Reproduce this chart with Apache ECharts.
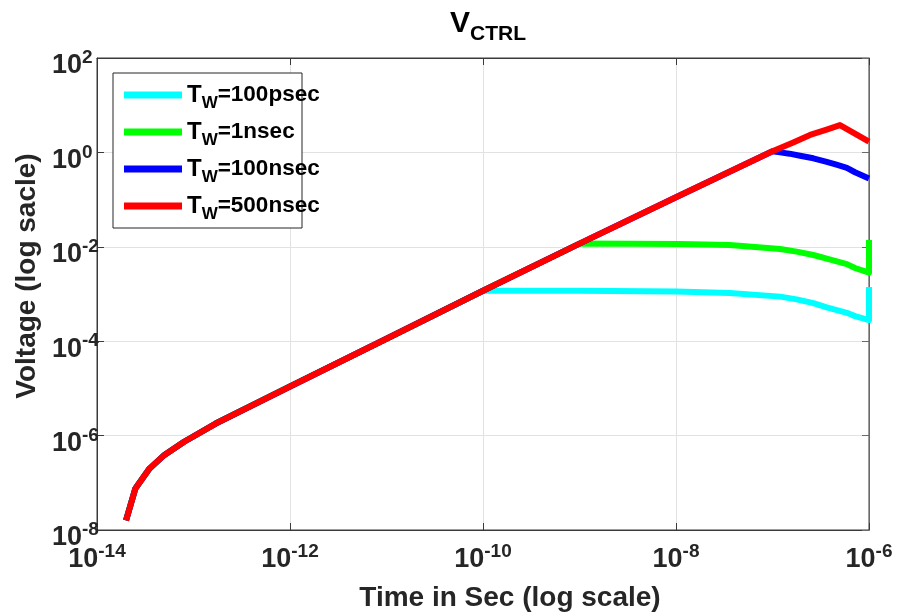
<!DOCTYPE html>
<html>
<head>
<meta charset="utf-8">
<script src="https://cdn.jsdelivr.net/npm/echarts@6/dist/echarts.min.js"></script>
<style>
  html, body { margin: 0; padding: 0; background: #fff; }
  #chart { width: 897px; height: 616px; }
</style>
</head>
<body>
<div id="chart"></div>
<script>
// Shared charging ramp of the control voltage (all pulse widths follow it)
const riseTime = [2e-14, 2.5e-14, 3.5e-14, 5e-14, 8e-14, 1.7e-13, 1e-12, 1e-11, 1e-10, 1e-9, 1e-8, 1e-7];
const riseVolt = [1.6e-8, 7.6e-8, 2.0e-7, 3.9e-7, 7.4e-7, 1.8e-6, 1.1e-5, 1.13e-4, 1.17e-3, 1.17e-2, 0.112, 1.06];

// Pulse widths shown in the legend, and the time each one leaves the ramp
const seriesNames = ['TW=100psec', 'TW=1nsec', 'TW=100nsec', 'TW=500nsec'];
const rampEnd = [1e-10, 1e-9, 1e-7, 1e-7];

// Behaviour after the pulse ends
const cyanTailTime = [1e-9, 1e-8, 3.6e-8, 1.2e-7, 1.78e-7, 2.65e-7, 3.65e-7, 5.9e-7, 7.16e-7, 1e-6, 1e-6];
const cyanTailVolt = [1.17e-3, 1.13e-3, 1.05e-3, 8.8e-4, 7.7e-4, 6.4e-4, 5.2e-4, 4.0e-4, 3.4e-4, 2.8e-4, 1.4e-3];
const greenTailTime = [1.1e-8, 3.6e-8, 1.2e-7, 1.78e-7, 2.65e-7, 3.65e-7, 5.9e-7, 7.16e-7, 1e-6, 1e-6];
const greenTailVolt = [1.15e-2, 1.09e-2, 8.98e-3, 7.9e-3, 6.7e-3, 5.6e-3, 4.3e-3, 3.56e-3, 2.83e-3, 1.4e-2];
const blueTailTime = [1.2e-7, 1.5e-7, 1.93e-7, 2.65e-7, 3.65e-7, 4.6e-7, 5.9e-7, 7.16e-7, 1e-6];
const blueTailVolt = [1.0, 0.94, 0.85, 0.75, 0.63, 0.55, 0.47, 0.38, 0.28];
const redTailTime = [1.64e-7, 2.45e-7, 3.64e-7, 5e-7, 1e-6];
const redTailVolt = [1.62, 2.34, 3.05, 3.8, 1.69];

const tails = [
  [cyanTailTime, cyanTailVolt],
  [greenTailTime, greenTailVolt],
  [blueTailTime, blueTailVolt],
  [redTailTime, redTailVolt]
];
const colors = ['#00ffff', '#00ff00', '#0000ff', '#ff0000'];

function buildCurve(i) {
  const pts = [];
  for (let k = 0; k < riseTime.length; k++) {
    if (riseTime[k] <= rampEnd[i] * 1.0001) pts.push([riseTime[k], riseVolt[k]]);
  }
  const [tt, vv] = tails[i];
  for (let k = 0; k < tt.length; k++) pts.push([tt[k], vv[k]]);
  return pts;
}

const FONT = 'Liberation Sans, Arial, Helvetica, sans-serif';
const AXIS_COLOR = '#3a3a3a';

function expOf(v) { return Math.round(Math.log10(v)); }
function powerLabel(v) { return '{b|10}{s|' + expOf(v) + '}'; }
const powerRich = {
  b: { fontFamily: FONT, fontWeight: 'bold', fontSize: 27, lineHeight: 27, color: '#262626', padding: [8, 0, 0, 0] },
  s: { fontFamily: FONT, fontWeight: 'bold', fontSize: 19, lineHeight: 19, color: '#262626', verticalAlign: 'top' }
};

const chart = echarts.init(document.getElementById('chart'), null, { renderer: 'canvas' });

const option = {
  backgroundColor: '#ffffff',
  animation: false,
  title: {
    text: '{v|V}{s|CTRL}',
    left: 450,
    top: 9,
    padding: 0,
    textStyle: {
      rich: {
        v: { fontFamily: FONT, fontWeight: 'bold', fontSize: 30, lineHeight: 30, color: '#000', verticalAlign: 'top' },
        s: { fontFamily: FONT, fontWeight: 'bold', fontSize: 21, lineHeight: 21, color: '#000', padding: [21, 0, 0, 0] }
      }
    }
  },
  legend: {
    orient: 'vertical',
    left: 124,
    top: 78,
    padding: 0,
    itemGap: 3,
    itemWidth: 58,
    itemHeight: 7,
    icon: 'rect',
    data: seriesNames,
    formatter: function (name) {
      return '{t|T}{w|W}{r|' + name.slice(2) + '}';
    },
    textStyle: {
      rich: {
        t: { fontFamily: FONT, fontWeight: 'bold', fontSize: 24, lineHeight: 24, color: '#000', verticalAlign: 'top' },
        w: { fontFamily: FONT, fontWeight: 'bold', fontSize: 17, lineHeight: 17, color: '#000', padding: [17, 0, 0, 0] },
        r: { fontFamily: FONT, fontWeight: 'bold', fontSize: 22.5, lineHeight: 24, color: '#000', verticalAlign: 'top' }
      }
    },
    z: 5
  },
  graphic: [{
    type: 'rect',
    z: 3,
    shape: { x: 113, y: 73, width: 189, height: 155 },
    style: { fill: '#ffffff', stroke: '#262626', lineWidth: 1 }
  }],
  grid: {
    left: 97,
    right: 28,
    top: 58,
    bottom: 86,
    show: true,
    borderColor: AXIS_COLOR,
    borderWidth: 1,
    backgroundColor: 'transparent',
    outerBoundsMode: 'none'
  },
  xAxis: [{
    type: 'log',
    logBase: 10,
    min: 1e-14,
    max: 1e-6,
    interval: 2,
    name: 'Time in Sec (log scale)',
    nameLocation: 'middle',
    nameGap: 54,
    nameTextStyle: {
      fontFamily: FONT, fontWeight: 'bold', fontSize: 28, lineHeight: 28, color: '#262626',
      padding: [0, 0, 0, 54]
    },
    axisLine: { show: true, lineStyle: { color: AXIS_COLOR, width: 1 } },
    axisTick: { show: true, inside: true, length: 7, lineStyle: { color: AXIS_COLOR } },
    minorTick: { show: false },
    axisLabel: { margin: 12, formatter: powerLabel, rich: powerRich },
    splitLine: { show: true, lineStyle: { color: '#e2e2e2', width: 1 } }
  }, {
    type: 'log',
    logBase: 10,
    min: 1e-14,
    max: 1e-6,
    interval: 2,
    position: 'top',
    axisLine: { show: true, lineStyle: { color: AXIS_COLOR, width: 1 } },
    axisTick: { show: true, inside: true, length: 7, lineStyle: { color: AXIS_COLOR } },
    axisLabel: { show: false },
    splitLine: { show: false }
  }],
  yAxis: [{
    type: 'log',
    logBase: 10,
    min: 1e-8,
    max: 1e2,
    interval: 2,
    name: 'Voltage (log sacle)',
    nameLocation: 'middle',
    nameGap: 56,
    nameTextStyle: {
      fontFamily: FONT, fontWeight: 'bold', fontSize: 28, lineHeight: 28, color: '#262626',
      padding: [0, 0, 0, 36]
    },
    axisLine: { show: true, lineStyle: { color: AXIS_COLOR, width: 1 } },
    axisTick: { show: true, inside: true, length: 7, lineStyle: { color: AXIS_COLOR } },
    axisLabel: { margin: 45, align: 'left', padding: [8, 0, 0, 0], formatter: powerLabel, rich: powerRich },
    splitLine: { show: true, lineStyle: { color: '#e2e2e2', width: 1 } }
  }, {
    type: 'log',
    logBase: 10,
    min: 1e-8,
    max: 1e2,
    interval: 2,
    position: 'right',
    axisLine: { show: true, lineStyle: { color: '#6a6a6a', width: 1 } },
    axisTick: { show: true, inside: true, length: 7, lineStyle: { color: '#6a6a6a' } },
    axisLabel: { show: false },
    splitLine: { show: false }
  }],
  series: seriesNames.map(function (name, i) {
    return {
      name: name,
      type: 'line',
      xAxisIndex: 0,
      yAxisIndex: 0,
      data: buildCurve(i),
      showSymbol: false,
      symbol: 'none',
      color: colors[i],
      lineStyle: { color: colors[i], width: 6, join: 'round' },
      emphasis: { disabled: true },
      z: 2 + i * 0.01
    };
  })
};

chart.setOption(option);
</script>
</body>
</html>
